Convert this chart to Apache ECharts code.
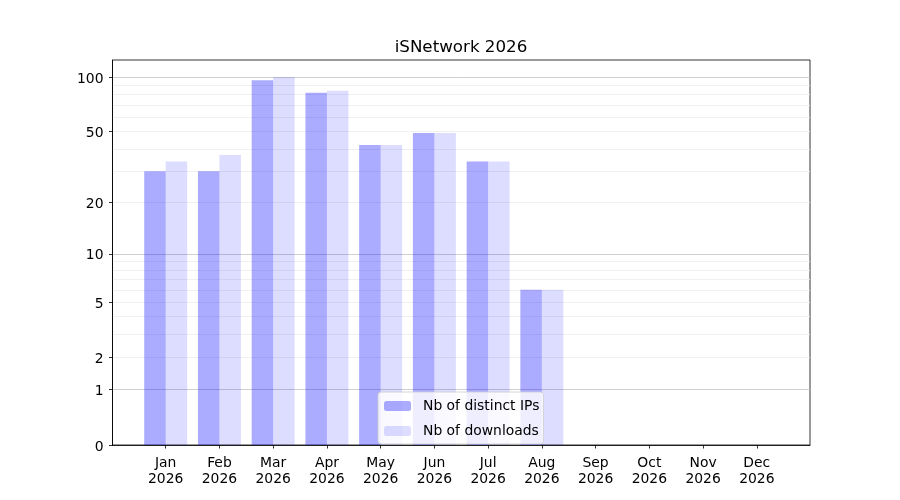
<!DOCTYPE html>
<html>
<head>
<meta charset="utf-8">
<script src="https://cdn.jsdelivr.net/npm/echarts@6/dist/echarts.min.js"></script>
<style>
  html, body { margin: 0; padding: 0; background: #fff; }
  #main { width: 900px; height: 500px; }
</style>
</head>
<body>
<div id="main"></div>
<script>
// valeurs
var months = ['Jan', 'Feb', 'Mar', 'Apr', 'May', 'Jun', 'Jul', 'Aug', 'Sep', 'Oct', 'Nov', 'Dec'];
var year = '2026';
var distinctIps = [30, 30, 96, 82, 42, 49, 34, 6, 0, 0, 0, 0];
var downloads = [34, 37, 100, 84, 42, 49, 34, 6, 0, 0, 0, 0];
var yTicks = [0, 1, 2, 5, 10, 20, 50, 100];
var majorGrid = [1, 10, 100];
var minorGrid = [2, 3, 4, 5, 6, 7, 8, 9, 20, 30, 40, 50, 60, 70, 80, 90];

// echelle log(1+x)
function tr(v) { return Math.log10(1 + v); }
function back(v) { return Math.round(Math.pow(10, v) - 1); }

var font = 'DejaVu Sans';
var yMax = 2.097;

function toPoints(arr) {
  return arr.map(function (v, i) { return [i, tr(v)]; });
}

function gridAxis(values, color) {
  return {
    type: 'value', min: 0, max: yMax,
    axisLine: { show: false, onZero: false },
    axisTick: { show: false, customValues: values.map(tr) },
    axisLabel: { show: false, customValues: values.map(tr) },
    splitLine: { show: true, lineStyle: { color: color, width: 0.8 } }
  };
}

var chart = echarts.init(document.getElementById('main'));
chart.setOption({
  animation: false,
  title: {
    text: 'iSNetwork 2026',
    left: 461, top: 39, textAlign: 'center', padding: 0,
    textStyle: { fontFamily: font, fontSize: 16.7, fontWeight: 'normal', color: '#000' }
  },
  grid: {
    left: 112.5, right: 90, top: 60, bottom: 55,
    show: true, borderColor: '#000', borderWidth: 0.8, backgroundColor: 'transparent'
  },
  legend: {
    orient: 'vertical',
    left: 378, top: 392,
    padding: [7, 4, 6, 6],
    itemWidth: 27, itemHeight: 10, itemGap: 11,
    backgroundColor: 'rgba(255,255,255,0.8)',
    borderColor: '#cccccc', borderWidth: 0.8, borderRadius: 3,
    textStyle: { fontFamily: font, fontSize: 13.9, color: '#000', padding: [0, 0, 0, 7] },
    data: ['Nb of distinct IPs', 'Nb of downloads']
  },
  xAxis: {
    type: 'value', min: -0.99, max: 11.99,
    axisLine: { show: true, onZero: false, lineStyle: { color: '#000', width: 0.8 } },
    axisTick: { show: true, length: 3.5, lineStyle: { color: '#000', width: 0.8 },
      customValues: months.map(function (m, i) { return i; }) },
    axisLabel: {
      fontFamily: font, fontSize: 13.9, color: '#000', lineHeight: 16, margin: 10,
      customValues: months.map(function (m, i) { return i; }),
      formatter: function (v) { return months[Math.round(v)] + '\n' + year; }
    },
    splitLine: { show: false }
  },
  yAxis: [
    {
      type: 'value', min: 0, max: yMax,
      axisLine: { show: true, onZero: false, lineStyle: { color: '#000', width: 0.8 } },
      axisTick: { show: true, length: 3.5, lineStyle: { color: '#000', width: 0.8 },
        customValues: yTicks.map(tr) },
      axisLabel: {
        fontFamily: font, fontSize: 13.9, color: '#000', margin: 9,
        verticalAlign: 'top', lineHeight: 14, padding: [-5, 0, 0, 0],
        customValues: yTicks.map(tr),
        formatter: function (v) { return String(back(v)); }
      },
      splitLine: { show: false }
    },
    gridAxis(majorGrid, '#c4c4c4'),
    gridAxis(minorGrid, '#ececec')
  ],
  series: [
    {
      name: 'Nb of distinct IPs', type: 'bar', yAxisIndex: 0,
      barWidth: 21.5, barGap: '0%',
      itemStyle: { color: 'rgba(0,0,255,0.33)' },
      data: toPoints(distinctIps)
    },
    {
      name: 'Nb of downloads', type: 'bar', yAxisIndex: 0,
      barWidth: 21.5, barGap: '0%',
      itemStyle: { color: 'rgba(0,0,255,0.135)' },
      data: toPoints(downloads)
    }
  ]
});
</script>
</body>
</html>
